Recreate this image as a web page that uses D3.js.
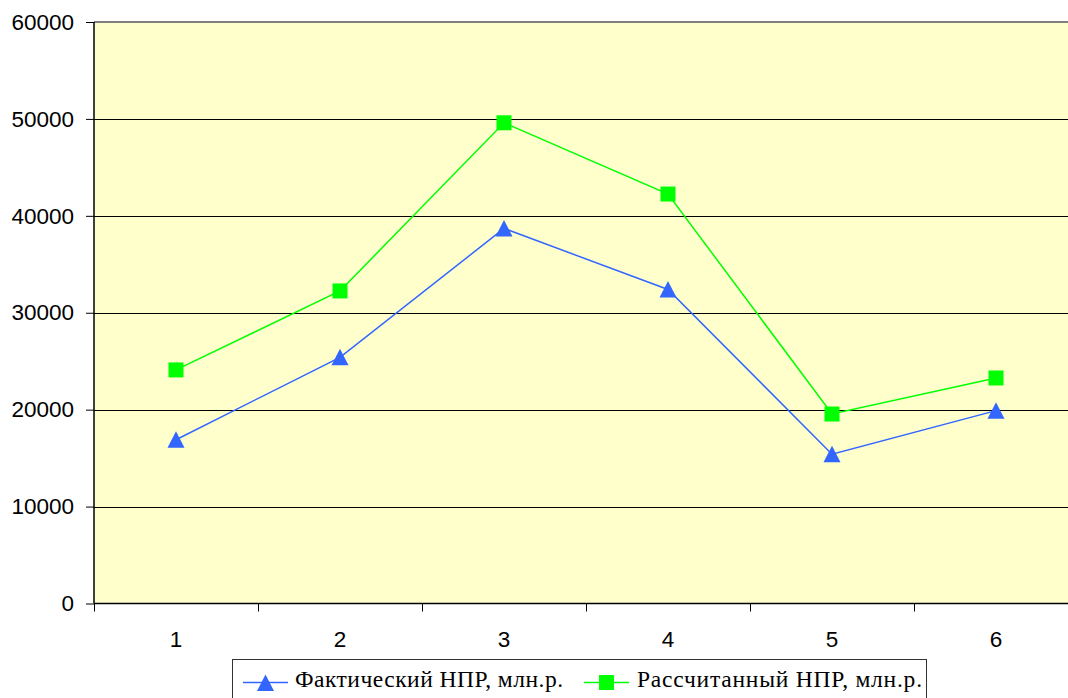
<!DOCTYPE html>
<html><head><meta charset="utf-8">
<script src="https://cdn.jsdelivr.net/npm/d3@7"></script>
<style>
html,body{margin:0;padding:0;background:#fff;overflow:hidden;}
svg{display:block;}
.sans{font-family:"Liberation Sans", Arial, sans-serif;}
.serif{font-family:"Liberation Serif", "Times New Roman", "DejaVu Serif", serif;}
</style>
</head><body>
<svg id="chart" width="1068" height="698"></svg>
<script>
const categories = ["1","2","3","4","5","6"];
const actualValues = [16900, 25400, 38700, 32400, 15400, 19900];
const calcValues = [24100, 32250, 49600, 42250, 19550, 23270];
const yTicks = [0, 10000, 20000, 30000, 40000, 50000, 60000];
const seriesNames = ["Фактический НПР, млн.р.", "Рассчитанный НПР, млн.р."];

(function () {
const svg = d3.select("#chart");
const pLeft = 94, pRight = 1078, pTop = 22, pBottom = 603.5;

const x = d3.scaleBand().domain(categories).range([pLeft, pRight]).padding(0);
const y = d3.scaleLinear().domain([0, 60000]).range([pBottom, pTop]);

svg.append("rect").attr("x", pLeft).attr("y", pTop).attr("width", pRight - pLeft).attr("height", pBottom - pTop)
  .attr("fill", "#FFFFCC");

svg.append("g").selectAll("line").data(yTicks.filter(v => v > 0 && v < 60000)).join("line")
  .attr("x1", pLeft).attr("x2", pRight).attr("y1", d => Math.round(y(d)) + 0.5).attr("y2", d => Math.round(y(d)) + 0.5)
  .attr("stroke", "#000").attr("stroke-width", 1);

svg.append("line").attr("x1", pLeft).attr("x2", pRight).attr("y1", pTop).attr("y2", pTop)
  .attr("stroke", "#808080").attr("stroke-width", 2);

const yAxis = d3.axisLeft(y).tickValues(yTicks).tickSize(8).tickPadding(12).tickFormat(d3.format("d"));
const gy = svg.append("g").attr("transform", `translate(${pLeft},0)`).call(yAxis);
gy.attr("font-family", null).attr("font-size", null);
gy.select(".domain").attr("stroke", "#000").attr("stroke-width", 1.5).attr("d", `M0,${pTop}V${pBottom}`);
gy.selectAll(".tick line").attr("stroke", "#000");
gy.selectAll(".tick text").attr("class", "sans").style("font-size", "22.5px").attr("fill", "#000");

const gx = svg.append("g");
gx.append("line").attr("x1", pLeft).attr("x2", pRight).attr("y1", pBottom).attr("y2", pBottom)
  .attr("stroke", "#000").attr("stroke-width", 1.5);
const boundaries = categories.map(c => x(c)).concat([x(categories[categories.length - 1]) + x.bandwidth()]);
gx.selectAll(".xt").data(boundaries).join("line").attr("class", "xt")
  .attr("x1", d => Math.round(d) + 0.5).attr("x2", d => Math.round(d) + 0.5)
  .attr("y1", pBottom).attr("y2", pBottom + 8).attr("stroke", "#000");
gx.selectAll(".xl").data(categories).join("text").attr("class", "sans")
  .attr("x", d => x(d) + x.bandwidth() / 2).attr("y", 647)
  .attr("text-anchor", "middle")
  .style("font-size", "22.5px").attr("fill", "#000")
  .text(d => d);

const cx = d => x(d) + x.bandwidth() / 2;
const triPath = "M0,-8.5L8.5,8L-8.5,8Z";

const line = d3.line().x(d => cx(d.c)).y(d => y(d.v));
const actual = categories.map((c, i) => ({c, v: actualValues[i]}));
const calc = categories.map((c, i) => ({c, v: calcValues[i]}));

svg.append("path").datum(calc).attr("d", line).attr("fill", "none").attr("stroke", "#00FF00").attr("stroke-width", 1.5);
svg.append("path").datum(actual).attr("d", line).attr("fill", "none").attr("stroke", "#3366FF").attr("stroke-width", 1.5);

svg.append("g").selectAll("rect").data(calc).join("rect")
  .attr("x", d => cx(d.c) - 7.5).attr("y", d => y(d.v) - 7.5).attr("width", 15).attr("height", 15)
  .attr("fill", "#00FF00");
svg.append("g").selectAll("path").data(actual).join("path")
  .attr("transform", d => `translate(${cx(d.c)},${y(d.v)})`).attr("d", triPath)
  .attr("fill", "#3366FF");

const lg = svg.append("g");
lg.append("rect").attr("x", 232.5).attr("y", 659.5).attr("width", 694).attr("height", 60)
  .attr("fill", "#fff").attr("stroke", "#333").attr("stroke-width", 1);
const legendItems = [
  {name: seriesNames[0], color: "#3366FF", x1: 243, x2: 288, tx: 295, tw: 268, type: "tri"},
  {name: seriesNames[1], color: "#00FF00", x1: 584, x2: 629, tx: 637, tw: 285, type: "sq"}
];
legendItems.forEach(it => {
  lg.append("line").attr("x1", it.x1).attr("x2", it.x2).attr("y1", 682.5).attr("y2", 682.5)
    .attr("stroke", it.color).attr("stroke-width", 1.5);
  const mx = (it.x1 + it.x2) / 2;
  if (it.type === "tri") {
    lg.append("path").attr("transform", `translate(${mx},683)`).attr("d", triPath).attr("fill", it.color);
  } else {
    lg.append("rect").attr("x", mx - 7.5).attr("y", 675).attr("width", 15).attr("height", 15).attr("fill", it.color);
  }
  lg.append("text").attr("class", "serif").attr("x", it.tx).attr("y", 687)
    .style("font-size", "23.5px").attr("fill", "#000")
    .attr("textLength", it.tw).attr("lengthAdjust", "spacing")
    .text(it.name);
});
})();
</script>
</body></html>
